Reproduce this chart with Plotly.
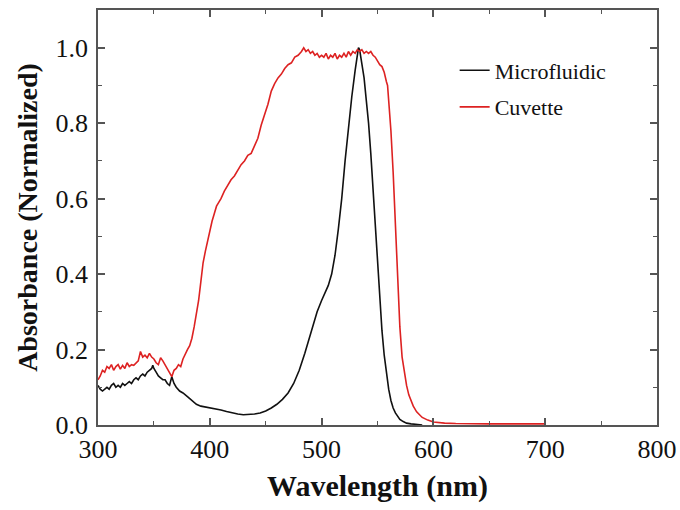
import plotly.graph_objects as go

# Microfluidic (black)
micro_wl = [300,302,304,306,308,310,312,314,316,318,320,322,324,326,328,330,332,334,336,338,
            340,342,344,346,348,349,350,352,354,356,358,360,362,364,365,366,368,370,373,376,
            380,384,388,392,396,400,405,410,415,420,425,430,435,440,445,450,455,460,465,470,
            475,480,485,490,493,496,500,503,506,509,512,515,518,521,524,527,530,532,533,534,
            536,538,540,542,544,546,548,550,552,554,556,558,560,562,564,566,568,570,573,576,
            580,585,590]
micro_abs = [0.105,0.095,0.090,0.095,0.100,0.095,0.105,0.110,0.100,0.105,0.100,0.110,0.105,0.110,0.115,0.110,0.120,0.125,0.120,0.130,
             0.135,0.130,0.140,0.145,0.150,0.158,0.150,0.140,0.130,0.125,0.120,0.120,0.110,0.105,0.115,0.128,0.110,0.100,0.090,0.085,
             0.075,0.065,0.055,0.050,0.048,0.046,0.043,0.040,0.036,0.032,0.029,0.027,0.027,0.029,0.032,0.037,0.045,0.055,0.068,0.085,
             0.110,0.145,0.190,0.240,0.275,0.300,0.330,0.350,0.370,0.400,0.450,0.520,0.600,0.700,0.790,0.870,0.940,0.980,1.000,0.995,
             0.960,0.920,0.860,0.800,0.720,0.620,0.520,0.420,0.330,0.250,0.185,0.135,0.095,0.065,0.045,0.032,0.022,0.015,0.009,0.005,
             0.003,0.001,0.000]

# Cuvette (red)
cuv_wl = [300,302,304,306,308,310,312,314,316,318,320,322,324,326,328,330,332,334,336,338,
          340,342,344,346,348,350,352,354,356,358,360,362,364,366,368,370,372,374,376,378,
          380,382,384,386,388,390,392,394,396,398,400,402,404,406,408,410,413,416,419,422,
          425,428,431,434,437,440,443,446,449,452,455,458,461,464,467,470,473,476,479,482,
          484,486,488,490,492,494,496,498,500,502,504,506,508,510,512,514,516,518,520,522,
          524,526,528,530,532,534,536,538,540,542,544,546,548,550,552,554,556,558,559,560,
          562,564,566,568,570,572,574,576,578,580,582,585,590,595,600,610,620,650,700]
cuv_abs = [0.120,0.130,0.145,0.140,0.155,0.150,0.160,0.145,0.155,0.160,0.148,0.158,0.150,0.165,0.155,0.160,0.158,0.165,0.170,0.195,
           0.180,0.185,0.178,0.190,0.180,0.175,0.165,0.160,0.178,0.170,0.160,0.150,0.140,0.128,0.145,0.150,0.160,0.155,0.175,0.190,
           0.200,0.210,0.230,0.260,0.290,0.330,0.380,0.430,0.460,0.490,0.520,0.540,0.560,0.580,0.590,0.600,0.620,0.635,0.650,0.660,
           0.675,0.690,0.700,0.715,0.720,0.740,0.760,0.795,0.820,0.850,0.885,0.905,0.920,0.930,0.945,0.955,0.960,0.975,0.980,0.990,
           1.000,0.990,0.995,0.985,0.990,0.980,0.985,0.975,0.980,0.975,0.985,0.970,0.980,0.975,0.985,0.970,0.980,0.975,0.985,0.975,
           0.990,0.980,0.990,0.985,0.995,0.990,0.995,0.985,0.990,0.985,0.990,0.980,0.975,0.965,0.955,0.950,0.935,0.910,0.900,0.860,
           0.780,0.670,0.520,0.380,0.260,0.180,0.135,0.105,0.080,0.062,0.050,0.035,0.020,0.013,0.008,0.005,0.004,0.003,0.003]

x_ticks = [300, 400, 500, 600, 700, 800]
y_ticks = [0.0, 0.2, 0.4, 0.6, 0.8, 1.0]

FONT = "Liberation Serif"
AXC = "#555555"

fig = go.Figure()
fig.add_trace(go.Scatter(x=micro_wl, y=micro_abs, mode="lines", name="Microfluidic",
                         line=dict(color="#111111", width=1.6), legendgroup="a"))
fig.add_trace(go.Scatter(x=cuv_wl, y=cuv_abs, mode="lines", name="Cuvette",
                         line=dict(color="#dd2222", width=1.6), legendgroup="b"))

axis_common = dict(showline=True, linecolor=AXC, linewidth=1.5, mirror="ticks",
                   ticks="inside", ticklen=7, tickwidth=1.5, tickcolor=AXC,
                   showgrid=False, zeroline=False, automargin=False,
                   tickfont=dict(family=FONT, size=26, color="#111111"))

fig.update_xaxes(range=[300, 800], tickvals=x_ticks,
                 minor=dict(dtick=50, ticks="inside", ticklen=4, tickcolor=AXC, tickwidth=1.2),
                 title=dict(text="<b>Wavelength (nm)</b>", font=dict(family=FONT, size=30, color="#111111"), standoff=12),
                 **axis_common)
fig.update_yaxes(range=[0, 1.1], tickvals=y_ticks, tickformat=".1f", ticklabelstandoff=3,
                 minor=dict(dtick=0.1, ticks="inside", ticklen=4, tickcolor=AXC, tickwidth=1.2),
                 title=dict(text="<b>Absorbance (Normalized)</b>", font=dict(family=FONT, size=28, color="#111111"), standoff=10),
                 **axis_common)

fig.update_layout(width=680, height=510, paper_bgcolor="white", plot_bgcolor="white",
                  margin=dict(l=98, r=23, t=10, b=85),
                  legend=dict(x=0.638, y=0.905, xanchor="left", yanchor="top",
                              font=dict(family=FONT, size=22, color="#111111"),
                              bgcolor="rgba(0,0,0,0)", tracegroupgap=5, traceorder="grouped"))

fig.write_html("out.html", config={"displayModeBar": False},
               post_script="document.body.style.margin='0';")
